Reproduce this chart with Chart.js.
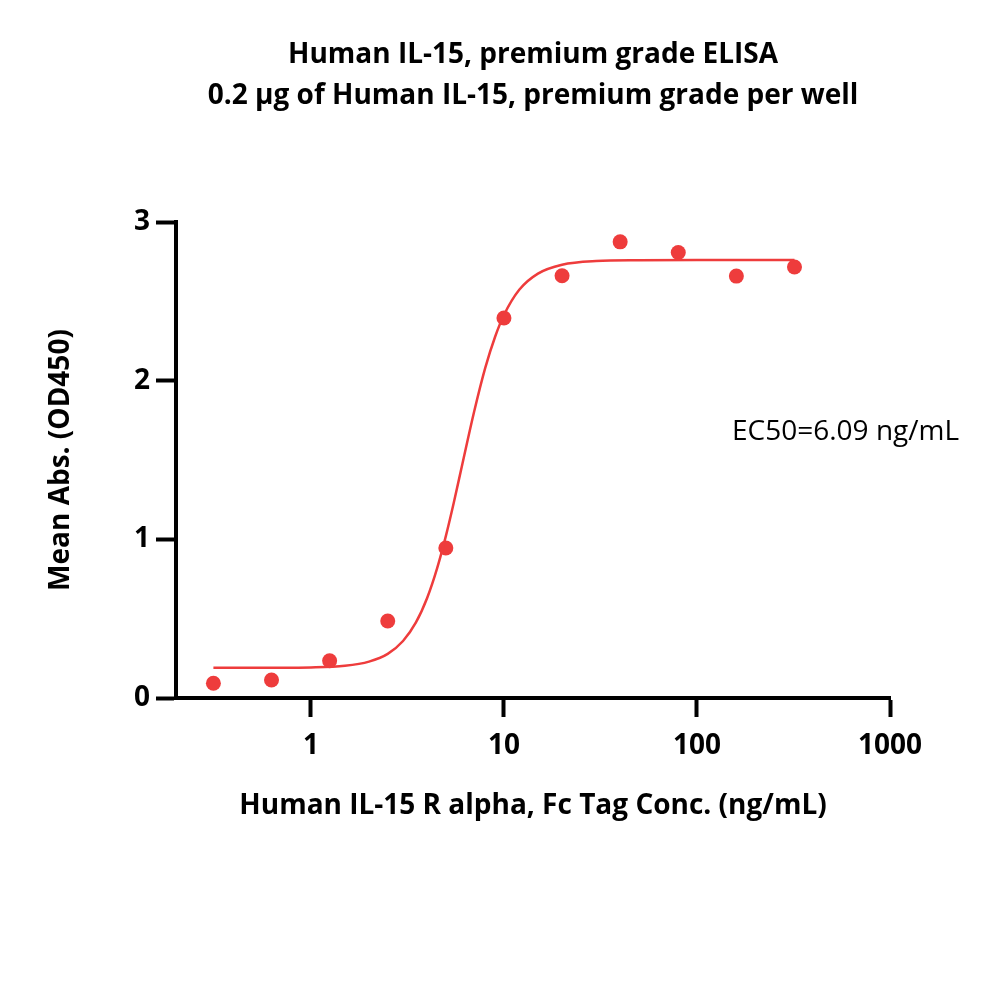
<!DOCTYPE html>
<html>
<head>
<meta charset="utf-8">
<script src="https://cdn.jsdelivr.net/npm/chart.js@4"></script>
<style>
    body { margin: 0; background: #fff; }
    #wrap { width: 1000px; height: 982px; }
</style>
</head>
<body>
<div id="wrap"><canvas id="elisa-chart"></canvas></div>
<script>
const titleLines = ['Human IL-15, premium grade ELISA', '0.2 \u00b5g of Human IL-15, premium grade per well'];
const xTitle = 'Human IL-15 R alpha, Fc Tag Conc. (ng/mL)';
const yTitle = 'Mean Abs. (OD450)';
const ec50Label = 'EC50=6.09 ng/mL';

// measured points
const concentrations = [0.3125, 0.625, 1.25, 2.5, 5, 10, 20, 40, 80, 160, 320];
const absorbance = [0.093, 0.113, 0.235, 0.485, 0.945, 2.395, 2.661, 2.875, 2.808, 2.659, 2.716];

// fitted curve
const fitX = [0.3125, 0.625, 1, 1.5, 2, 2.5, 3, 3.5, 4, 4.5, 5, 5.5, 6.09, 7, 8, 9, 10, 12, 15, 20, 30, 50, 100, 320];
const fitY = [0.190, 0.191, 0.193, 0.203, 0.229, 0.278, 0.359, 0.476, 0.630, 0.815, 1.020, 1.232, 1.475, 1.803, 2.081, 2.277, 2.414, 2.573, 2.675, 2.731, 2.754, 2.759, 2.760, 2.760];

const xTicks = [1, 10, 100, 1000];
const yTicks = [0, 1, 2, 3];

const red = 'rgb(238, 60, 60)';
const fontFamily = "'Open Sans', sans-serif";

const textLayer = {
    id: 'textLayer',
    afterDraw(chart) {
        const ctx = chart.ctx;
        const area = chart.chartArea;
        ctx.save();
        ctx.fillStyle = '#000';
        ctx.textBaseline = 'middle';
        ctx.textAlign = 'center';
        ctx.font = "700 28px " + fontFamily;
        const mid = (area.left + area.right) / 2;
        ctx.fillText(titleLines[0], mid, 55);
        ctx.fillText(titleLines[1], mid, 96);
        ctx.textAlign = 'left';
        ctx.font = "400 28px " + fontFamily;
        ctx.fillText(ec50Label, area.left + 556, area.top + 210);
        ctx.restore();
    }
};

new Chart(document.getElementById('elisa-chart'), {
    type: 'scatter',
    plugins: [textLayer],
    data: {
        datasets: [
            {
                label: 'fit',
                data: fitX.map((x, i) => ({x: x, y: fitY[i]})),
                showLine: true,
                borderColor: red,
                borderWidth: 2.5,
                pointRadius: 0,
                cubicInterpolationMode: 'monotone'
            },
            {
                label: 'data',
                data: concentrations.map((x, i) => ({x: x, y: absorbance[i]})),
                backgroundColor: red,
                borderColor: red,
                pointRadius: 7.5,
                pointBorderWidth: 0
            }
        ]
    },
    options: {
        responsive: true,
        maintainAspectRatio: false,
        animation: false,
        layout: {
            padding: {top: 222, right: 110, bottom: 159, left: 0}
        },
        plugins: {
            legend: {display: false},
            tooltip: {enabled: false},
            title: {display: false}
        },
        scales: {
            x: {
                type: 'logarithmic',
                min: 0.2,
                max: 1000,
                afterBuildTicks: (scale) => {
                    scale.ticks = xTicks.map(v => ({value: v}));
                },
                afterFit: (scale) => {
                    scale.height = 125;
                },
                border: {display: true, color: '#000', width: 4},
                grid: {
                    drawOnChartArea: false,
                    drawTicks: true,
                    tickLength: 19,
                    tickWidth: 4,
                    tickColor: '#000'
                },
                ticks: {
                    autoSkip: false,
                    maxRotation: 0,
                    color: '#000',
                    padding: 12,
                    font: {family: fontFamily, size: 28, weight: 'bold'},
                    callback: (v) => String(v)
                },
                title: {
                    display: true,
                    text: xTitle,
                    color: '#000',
                    font: {family: fontFamily, size: 28, weight: 'bold'},
                    padding: {top: 20, bottom: 0}
                }
            },
            y: {
                min: 0,
                max: 3,
                afterBuildTicks: (scale) => {
                    scale.ticks = yTicks.map(v => ({value: v}));
                },
                afterFit: (scale) => {
                    scale.width = 176;
                },
                border: {display: true, color: '#000', width: 4},
                grid: {
                    drawOnChartArea: false,
                    drawTicks: true,
                    tickLength: 20,
                    tickWidth: 4,
                    tickColor: '#000'
                },
                ticks: {
                    color: '#000',
                    padding: 6,
                    font: {family: fontFamily, size: 28, weight: 'bold'}
                },
                title: {
                    display: true,
                    text: yTitle,
                    color: '#000',
                    font: {family: fontFamily, size: 28, weight: 'bold'},
                    padding: {top: 44, bottom: 0}
                }
            }
        }
    }
});
</script>
</body>
</html>
